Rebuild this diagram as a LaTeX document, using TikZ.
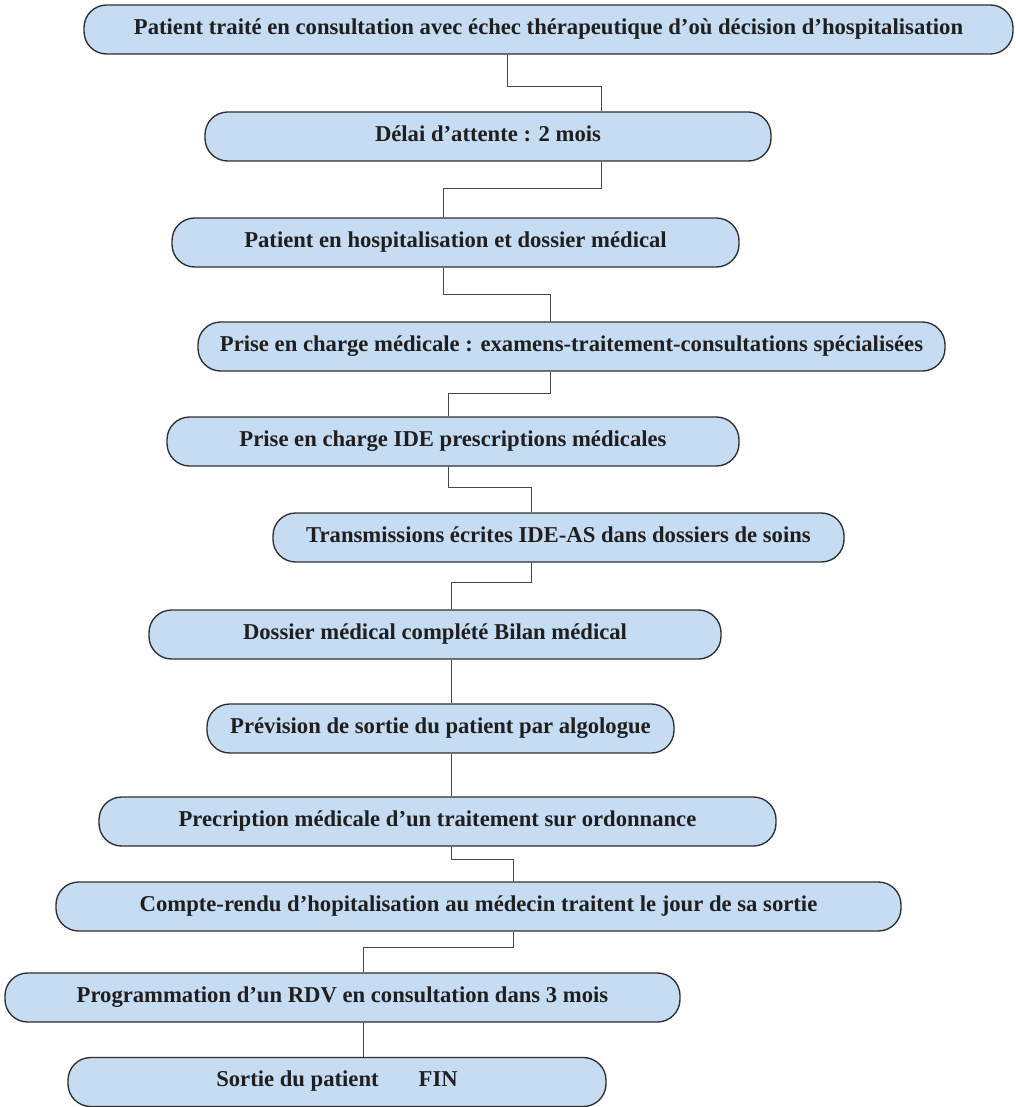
\documentclass[tikz,border=0pt]{standalone}
\usepackage{fontspec}
\setmainfont{Liberation Serif}
\definecolor{boxfill}{HTML}{C6DCF2}
\definecolor{boxline}{HTML}{2E2E2E}
\definecolor{wire}{HTML}{474747}
\begin{document}
\begin{tikzpicture}[x=0.75pt,y=-0.75pt,
  stepbox/.style={draw=boxline, fill=boxfill, line width=1pt, rounded corners=17pt,
    minimum height=36.75pt, inner sep=0pt, text height=10.5pt, text depth=3.5pt,
    font=\fontsize{17}{20}\selectfont\bfseries, text=black!88},
  link/.style={draw=wire, line width=0.7pt}]
\useasboundingbox (0,0) rectangle (1016,1107);

% flow steps
\node[stepbox, minimum width=696.75pt] (b1)  at (548.5,29.5)  {Patient traité en consultation avec échec thérapeutique d’où décision d’hospitalisation};
\node[stepbox, minimum width=424.5pt]  (b2)  at (488,136.5)   {Délai d’attente : 2 mois};
\node[stepbox, minimum width=425.25pt] (b3)  at (455.5,242.5) {Patient en hospitalisation et dossier médical};
\node[stepbox, minimum width=560.25pt] (b4)  at (571.5,346.5) {Prise en charge médicale : examens-traitement-consultations spécialisées};
\node[stepbox, minimum width=429pt]    (b5)  at (453,441.5)   {Prise en charge IDE prescriptions médicales};
\node[stepbox, minimum width=428.25pt] (b6)  at (558.5,537.5) {Transmissions écrites IDE-AS dans dossiers de soins};
\node[stepbox, minimum width=429pt]    (b7)  at (435,634.5)   {Dossier médical complété Bilan médical};
\node[stepbox, minimum width=350.25pt] (b8)  at (440.5,728.5) {Prévision de sortie du patient par algologue};
\node[stepbox, minimum width=507.75pt] (b9)  at (437.5,821.5) {Precription médicale d’un traitement sur ordonnance};
\node[stepbox, minimum width=633.75pt] (b10) at (478.5,906.5) {Compte-rendu d’hopitalisation au médecin traitent le jour de sa sortie};
\node[stepbox, minimum width=506.25pt] (b11) at (342.5,997.5) {Programmation d’un RDV en consultation dans 3 mois};
\node[stepbox, minimum width=403.5pt]  (b12) at (337,1082)    {Sortie du patient\hspace{30pt}FIN};

% elbow points of the connectors
\coordinate (e1a) at (507,86);  \coordinate (e1b) at (601,86);
\coordinate (e2a) at (601,188); \coordinate (e2b) at (443,188);
\coordinate (e3a) at (443,294); \coordinate (e3b) at (550,294);
\coordinate (e4a) at (550,393); \coordinate (e4b) at (448,393);
\coordinate (e5a) at (448,487); \coordinate (e5b) at (531,487);
\coordinate (e6a) at (531,582); \coordinate (e6b) at (451,582);
\coordinate (e7)  at (451,680);
\coordinate (e8)  at (451,775);
\coordinate (e9a) at (451,859); \coordinate (e9b) at (513,859);
\coordinate (e10a) at (513,947); \coordinate (e10b) at (363,947);
\coordinate (e11) at (363,1040);

% connectors
\draw[link] (e1a |- b1.south) -- (e1a) -- (e1b) -- (e1b |- b2.north);
\draw[link] (e2a |- b2.south) -- (e2a) -- (e2b) -- (e2b |- b3.north);
\draw[link] (e3a |- b3.south) -- (e3a) -- (e3b) -- (e3b |- b4.north);
\draw[link] (e4a |- b4.south) -- (e4a) -- (e4b) -- (e4b |- b5.north);
\draw[link] (e5a |- b5.south) -- (e5a) -- (e5b) -- (e5b |- b6.north);
\draw[link] (e6a |- b6.south) -- (e6a) -- (e6b) -- (e6b |- b7.north);
\draw[link] (e7 |- b7.south) -- (e7 |- b8.north);
\draw[link] (e8 |- b8.south) -- (e8 |- b9.north);
\draw[link] (e9a |- b9.south) -- (e9a) -- (e9b) -- (e9b |- b10.north);
\draw[link] (e10a |- b10.south) -- (e10a) -- (e10b) -- (e10b |- b11.north);
\draw[link] (e11 |- b11.south) -- (e11 |- b12.north);
\end{tikzpicture}
\end{document}
